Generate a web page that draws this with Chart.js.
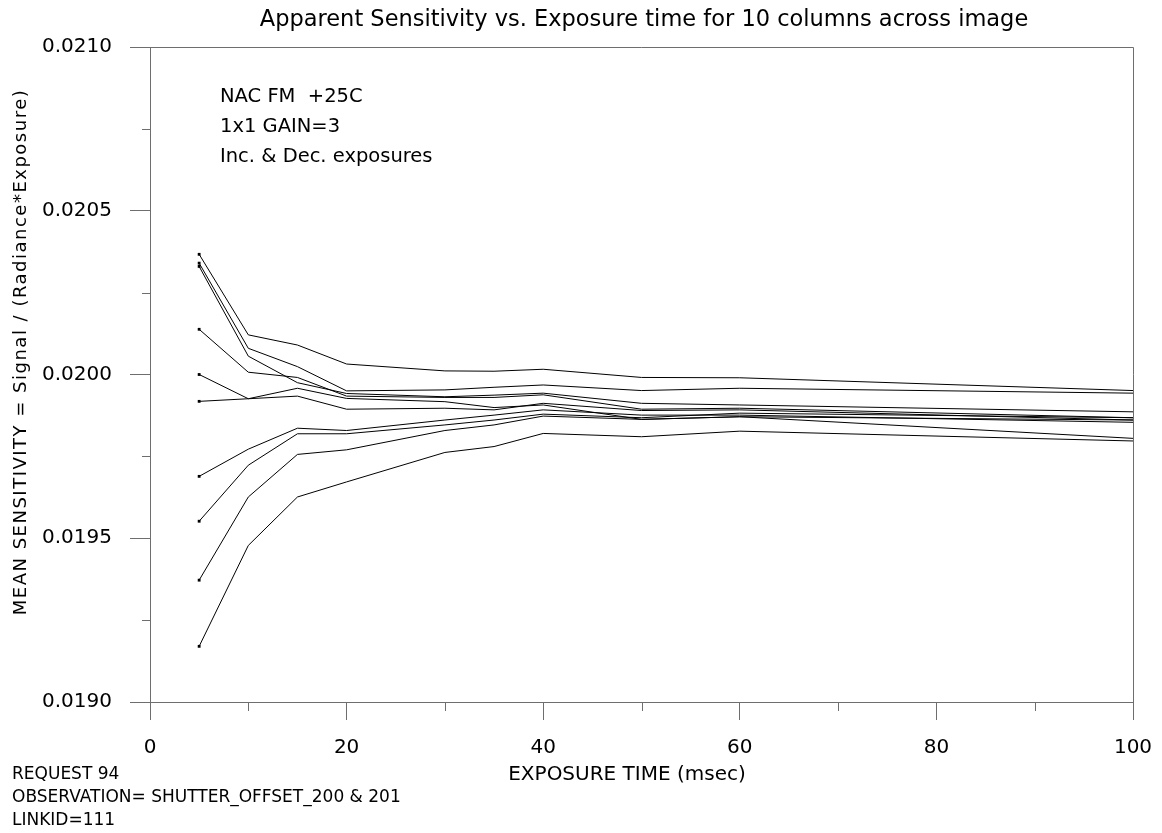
<!DOCTYPE html>
<html>
<head>
<meta charset="utf-8">
<script src="https://cdn.jsdelivr.net/npm/chart.js@4.4.1/dist/chart.umd.min.js"></script>
<style>
  html, body { margin: 0; padding: 0; background: #fff; }
  #wrap { position: relative; width: 1162px; height: 833px; }
</style>
</head>
<body>
<div id="wrap"><canvas id="c" width="1162" height="833"></canvas></div>
<script>
// ---- data ----
const exposureTimes = [5, 10, 15, 20, 30, 35, 40, 50, 60, 100];
const col1  = [0.020367, 0.020121, 0.020090, 0.020032, 0.020011, 0.020010, 0.020016, 0.019991, 0.019990, 0.019951];
const col2  = [0.020340, 0.020080, 0.020024, 0.019950, 0.019953, 0.019961, 0.019968, 0.019951, 0.019958, 0.019943];
const col3  = [0.020330, 0.020056, 0.019975, 0.019942, 0.019932, 0.019937, 0.019943, 0.019912, 0.019907, 0.019886];
const col4  = [0.020138, 0.020007, 0.019991, 0.019934, 0.019930, 0.019930, 0.019938, 0.019894, 0.019897, 0.019868];
const col5  = [0.020000, 0.019926, 0.019958, 0.019927, 0.019917, 0.019899, 0.019907, 0.019863, 0.019871, 0.019805];
const col6  = [0.019918, 0.019926, 0.019934, 0.019894, 0.019897, 0.019892, 0.019912, 0.019890, 0.019892, 0.019861];
const col7  = [0.019689, 0.019772, 0.019836, 0.019829, 0.019861, 0.019876, 0.019892, 0.019876, 0.019876, 0.019854];
const col8  = [0.019552, 0.019723, 0.019819, 0.019819, 0.019846, 0.019861, 0.019879, 0.019868, 0.019882, 0.019868];
const col9  = [0.019372, 0.019626, 0.019756, 0.019770, 0.019829, 0.019846, 0.019873, 0.019863, 0.019871, 0.019861];
const col10 = [0.019170, 0.019478, 0.019626, 0.019672, 0.019762, 0.019780, 0.019820, 0.019810, 0.019827, 0.019797];
const allColumns = [col1, col2, col3, col4, col5, col6, col7, col8, col9, col10];

const xMajorTicks = [0, 20, 40, 60, 80, 100];
const xMinorTicks = [10, 30, 50, 70, 90];
const yMinorTicks = [0.01925, 0.01975, 0.02025, 0.02075];

const titleText = "Apparent Sensitivity vs. Exposure time for 10 columns across image";
const xTitle = "EXPOSURE TIME (msec)";
const yTitle = "MEAN SENSITIVITY = Signal / (Radiance*Exposure)";
const noteLines = ["NAC FM  +25C", "1x1 GAIN=3", "Inc. & Dec. exposures"];
const footLines = ["REQUEST 94", "OBSERVATION= SHUTTER_OFFSET_200 & 201", "LINKID=111"];

const FONT = "'DejaVu Sans', Verdana, sans-serif";
const AXIS_COLOR = "#6e6e6e";

const datasets = allColumns.map((col, k) => ({
  label: "column " + (k + 1),
  data: exposureTimes.map((t, i) => ({ x: t, y: col[i] })),
  borderColor: "#000",
  borderWidth: 1,
  backgroundColor: "#000",
  fill: false,
  tension: 0,
  pointStyle: "rect",
  pointRadius: (ctx) => ctx.dataIndex === 0 ? 2 : 0,
  pointBorderWidth: 0,
  pointHoverRadius: 0
}));

const decor = {
  id: "decor",
  afterDraw(chart) {
    const ctx = chart.ctx;
    const a = chart.chartArea;
    const xs = chart.scales.x, ys = chart.scales.y;
    ctx.save();
    // frame top + right
    ctx.strokeStyle = AXIS_COLOR;
    ctx.lineWidth = 1;
    ctx.beginPath();
    ctx.moveTo(a.left, a.top + 0.5);
    ctx.lineTo(a.right + 0.5, a.top + 0.5);
    ctx.lineTo(a.right + 0.5, a.bottom);
    ctx.stroke();
    // minor ticks
    ctx.beginPath();
    xMinorTicks.forEach(v => {
      const px = Math.round(xs.getPixelForValue(v)) + 0.5;
      ctx.moveTo(px, a.bottom);
      ctx.lineTo(px, a.bottom + 9);
    });
    yMinorTicks.forEach(v => {
      const py = Math.round(ys.getPixelForValue(v)) + 0.5;
      ctx.moveTo(a.left, py);
      ctx.lineTo(a.left - 8, py);
    });
    ctx.stroke();
    // texts
    ctx.fillStyle = "#000";
    ctx.textBaseline = "middle";
    ctx.textAlign = "center";
    ctx.font = "22.5px " + FONT;
    ctx.fillText(titleText, 644, 20);
    ctx.font = "20px " + FONT;
    ctx.fillText(xTitle, 627, 775);
    ctx.save();
    ctx.translate(21, 352);
    ctx.rotate(-Math.PI / 2);
    ctx.font = "18px " + FONT;
    ctx.letterSpacing = "1.5px";
    ctx.fillText(yTitle, 0, 0);
    ctx.letterSpacing = "0px";
    ctx.restore();
    ctx.textAlign = "left";
    ctx.font = "19.5px " + FONT;
    noteLines.forEach((s, i) => ctx.fillText(s, 220, 97 + i * 30));
    ctx.font = "17px " + FONT;
    footLines.forEach((s, i) => ctx.fillText(s, 12, 775 + i * 23));
    ctx.restore();
  }
};

new Chart(document.getElementById("c"), {
  type: "line",
  data: { datasets },
  options: {
    responsive: false,
    animation: false,
    devicePixelRatio: 1,
    layout: { padding: { left: 0, right: 29, top: 47, bottom: 0 } },
    plugins: { legend: { display: false }, title: { display: false }, tooltip: { enabled: false } },
    scales: {
      x: {
        type: "linear",
        min: 0, max: 100,
        afterBuildTicks: (s) => { s.ticks = xMajorTicks.map(v => ({ value: v })); },
        ticks: { color: "#000", font: { family: FONT, size: 20 }, padding: 16, maxRotation: 0, autoSkip: false },
        grid: { drawOnChartArea: false, tickLength: 18, color: AXIS_COLOR },
        border: { color: AXIS_COLOR },
        afterFit: (s) => { s.height = 131; s.paddingRight = 0; s.paddingLeft = 0; }
      },
      y: {
        type: "linear",
        min: 0.019, max: 0.021,
        ticks: { stepSize: 0.0005, color: "#000", font: { family: FONT, size: 20 }, padding: 18,
                 callback: (v) => Number(v).toFixed(4) },
        grid: { drawOnChartArea: false, tickLength: 20, color: AXIS_COLOR },
        border: { color: AXIS_COLOR },
        afterFit: (s) => { s.width = 150; s.paddingTop = 0; s.paddingBottom = 0; }
      }
    }
  },
  plugins: [decor]
});
</script>
</body>
</html>
